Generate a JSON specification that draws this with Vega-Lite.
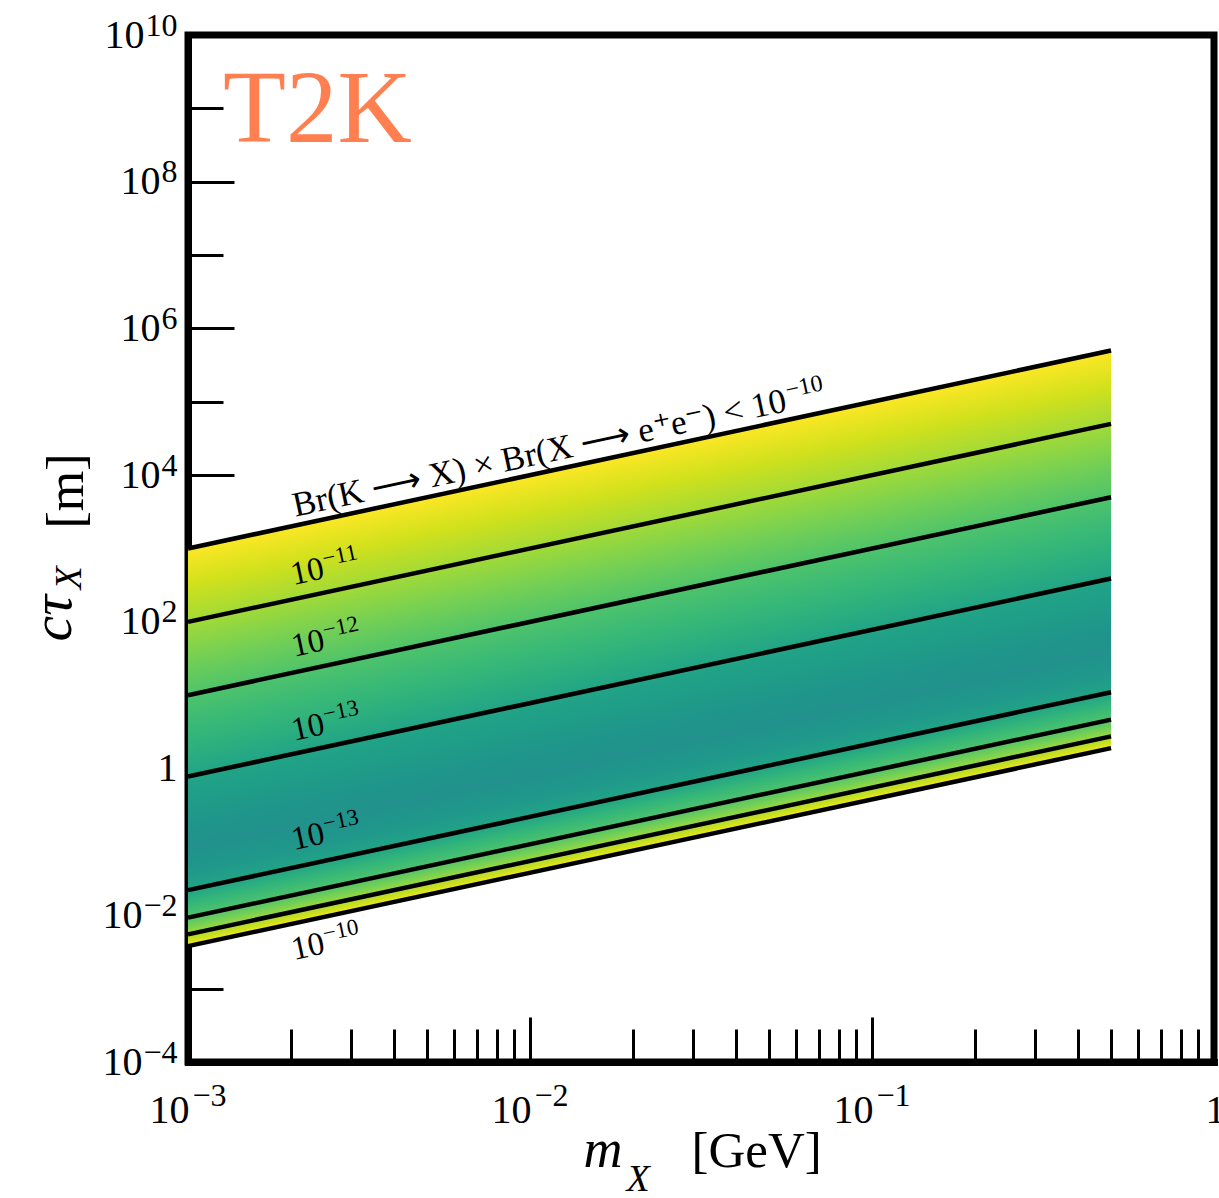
{
  "$schema": "https://vega.github.io/schema/vega-lite/v6.json",
  "width": 1026,
  "height": 1027,
  "autosize": "none",
  "padding": {"left": 188, "top": 35, "right": 5, "bottom": 136},
  "background": "white",
  "config": {
    "view": {"stroke": "black", "strokeWidth": 7},
    "font": "Liberation Serif",
    "axis": {
      "grid": false,
      "domain": false,
      "tickColor": "black",
      "tickWidth": 3,
      "labelColor": "black",
      "titleColor": "black",
      "labelFont": "Liberation Serif",
      "titleFont": "Liberation Serif",
      "titleFontWeight": "normal",
      "labelOverlap": false,
      "labelFlush": false,
      "zindex": 1
    }
  },
  "datasets": {
    "band": [
      {"m": 0.001, "hi": 1000, "lo": 0.0038},
      {"m": 0.5, "hi": 500000, "lo": 1.9}
    ],
    "contours": [
      {"id": "l1", "m": 0.001, "ct": 1000}, {"id": "l1", "m": 0.5, "ct": 500000},
      {"id": "l2", "m": 0.001, "ct": 100}, {"id": "l2", "m": 0.5, "ct": 50000},
      {"id": "l3", "m": 0.001, "ct": 10}, {"id": "l3", "m": 0.5, "ct": 5000},
      {"id": "l4", "m": 0.001, "ct": 0.78}, {"id": "l4", "m": 0.5, "ct": 390},
      {"id": "l5", "m": 0.001, "ct": 0.022}, {"id": "l5", "m": 0.5, "ct": 11},
      {"id": "l6", "m": 0.001, "ct": 0.0093}, {"id": "l6", "m": 0.5, "ct": 4.65},
      {"id": "l7", "m": 0.001, "ct": 0.0055}, {"id": "l7", "m": 0.5, "ct": 2.75},
      {"id": "l8", "m": 0.001, "ct": 0.0038}, {"id": "l8", "m": 0.5, "ct": 1.9}
    ],
    "levels": [
      {"m": 0.002032, "ct": 318, "base": "10", "exp": "−11"},
      {"m": 0.00204, "ct": 33.5, "base": "10", "exp": "−12"},
      {"m": 0.00204, "ct": 2.4, "base": "10", "exp": "−13"},
      {"m": 0.00204, "ct": 0.0776, "base": "10", "exp": "−13"},
      {"m": 0.00204, "ct": 0.002455, "base": "10", "exp": "−10"}
    ],
    "br": [
      {"m": 0.05682, "ct": 74870, "base": "Br(K ⟶ X) × Br(X ⟶ e⁺e⁻) < 10", "exp": "−10"}
    ],
    "tag": [
      {"m": 0.001266, "ct": 350000000, "label": "T2K"}
    ]
  },
  "layer": [
    {
      "data": {"name": "band"},
      "mark": {
        "type": "area",
        "strokeWidth": 0,
        "fill": {
          "gradient": "linear",
          "x1": 1, "y1": 0, "x2": 1.19984, "y2": 0.60115,
          "stops": [
            {"offset": 0, "color": "#fde725"},
            {"offset": 0.0922, "color": "#d0e11c"},
            {"offset": 0.1845, "color": "#a2da37"},
            {"offset": 0.2767, "color": "#75d054"},
            {"offset": 0.369, "color": "#4ec36b"},
            {"offset": 0.4612, "color": "#35b779"},
            {"offset": 0.5738, "color": "#21a486"},
            {"offset": 0.6457, "color": "#1f9c89"},
            {"offset": 0.7011, "color": "#20958b"},
            {"offset": 0.7564, "color": "#21928c"},
            {"offset": 0.8118, "color": "#20988b"},
            {"offset": 0.8597, "color": "#21a486"},
            {"offset": 0.8948, "color": "#35b779"},
            {"offset": 0.928, "color": "#4ec36b"},
            {"offset": 0.9501, "color": "#75d054"},
            {"offset": 0.9704, "color": "#a2da37"},
            {"offset": 0.9871, "color": "#d0e11c"},
            {"offset": 1, "color": "#fde725"}
          ]
        }
      },
      "encoding": {
        "x": {
          "field": "m", "type": "quantitative",
          "scale": {"type": "log", "domain": [0.001, 1], "nice": false},
          "axis": {
            "orient": "bottom",
            "values": [0.001, 0.01, 0.1, 1],
            "tickSize": -45,
            "labelExpr": "datum.value > 0.5 ? '1' : '10'",
            "labelFontSize": 40,
            "labelPadding": 105,
            "labelAlign": {"condition": {"test": "datum.value > 0.5", "value": "center"}, "value": "right"},
            "labelOffset": 1,
            "labelBaseline": "alphabetic",
            "title": "m",
            "titleFontSize": 54,
            "titleFontStyle": "italic",
            "titleAngle": 0,
            "titleAlign": "left",
            "titleBaseline": "alphabetic",
            "titleX": 395,
            "titleY": 104,
            "domain": true,
            "domainColor": "black",
            "domainWidth": 7,
            "domainCap": "square"
          }
        },
        "y": {
          "field": "hi", "type": "quantitative",
          "scale": {"type": "log", "domain": [0.0001, 10000000000], "nice": false},
          "axis": {
            "orient": "left",
            "values": [0.0001, 0.01, 1, 100, 10000, 1000000, 100000000, 10000000000],
            "tickSize": -46,
            "labelExpr": "datum.value > 0.5 && datum.value < 2 ? '1' : '10'",
            "labelFontSize": 40,
            "labelPadding": {
              "condition": [
                {"test": "datum.value > 0.5 && datum.value < 2", "value": 57},
                {"test": "datum.value > 1000000000", "value": 90},
                {"test": "datum.value < 0.5", "value": 92}
              ],
              "value": 74
            },
            "labelAlign": "right",
            "labelBaseline": "middle",
            "title": "cτ",
            "titleFontSize": 58,
            "titleFontStyle": "italic",
            "titleAngle": 270,
            "titleAlign": "left",
            "titleBaseline": "alphabetic",
            "titleX": -118,
            "titleY": 606,
            "domain": true,
            "domainColor": "black",
            "domainWidth": 7,
            "domainCap": "square"
          }
        },
        "y2": {"field": "lo"}
      }
    },
    {
      "data": {"name": "contours"},
      "mark": {"type": "line", "color": "black", "strokeWidth": 4.5},
      "encoding": {
        "x": {
          "field": "m", "type": "quantitative",
          "scale": {"type": "log", "domain": [0.001, 1], "nice": false},
          "axis": {
            "orient": "bottom",
            "values": [0.002, 0.003, 0.004, 0.005, 0.006, 0.007, 0.008, 0.009, 0.02, 0.03, 0.04, 0.05, 0.06, 0.07, 0.08, 0.09, 0.2, 0.3, 0.4, 0.5, 0.6, 0.7, 0.8, 0.9],
            "tickSize": -33,
            "labels": false,
            "title": "X",
            "titleFontSize": 38,
            "titleFontStyle": "italic",
            "titleAngle": 0,
            "titleAlign": "left",
            "titleBaseline": "alphabetic",
            "titleX": 438,
            "titleY": 128
          }
        },
        "y": {
          "field": "ct", "type": "quantitative",
          "scale": {"type": "log", "domain": [0.0001, 10000000000], "nice": false},
          "axis": {
            "orient": "left",
            "values": [0.001, 0.1, 10, 1000, 100000, 10000000, 1000000000],
            "tickSize": -35,
            "labels": false,
            "title": "X",
            "titleFontSize": 38,
            "titleFontStyle": "italic",
            "titleAngle": 270,
            "titleAlign": "left",
            "titleBaseline": "alphabetic",
            "titleX": -108,
            "titleY": 554
          }
        },
        "detail": {"field": "id", "type": "nominal"}
      }
    },
    {
      "data": {"name": "levels"},
      "mark": {"type": "text", "angle": -12.1, "align": "left", "baseline": "alphabetic", "fontSize": 33, "font": "Liberation Serif", "color": "black"},
      "encoding": {
        "x": {
          "field": "m", "type": "quantitative",
          "scale": {"type": "log", "domain": [0.001, 1], "nice": false},
          "axis": {
            "orient": "bottom",
            "ticks": false,
            "labels": false,
            "title": "[GeV]",
            "titleFontSize": 51,
            "titleAngle": 0,
            "titleAlign": "left",
            "titleBaseline": "alphabetic",
            "titleX": 503,
            "titleY": 104
          }
        },
        "y": {
          "field": "ct", "type": "quantitative",
          "scale": {"type": "log", "domain": [0.0001, 10000000000], "nice": false},
          "axis": {
            "orient": "left",
            "ticks": false,
            "labels": false,
            "title": "[m]",
            "titleFontSize": 52,
            "titleAngle": 270,
            "titleAlign": "left",
            "titleBaseline": "alphabetic",
            "titleX": -106,
            "titleY": 493
          }
        },
        "text": {"field": "base", "type": "nominal"}
      }
    },
    {
      "data": {"name": "levels"},
      "mark": {"type": "text", "angle": -12.1, "align": "left", "baseline": "alphabetic", "fontSize": 23, "font": "Liberation Serif", "color": "black", "dx": 34, "dy": -12},
      "encoding": {
        "x": {"field": "m", "type": "quantitative", "scale": {"type": "log", "domain": [0.001, 1], "nice": false}, "axis": null},
        "y": {"field": "ct", "type": "quantitative", "scale": {"type": "log", "domain": [0.0001, 10000000000], "nice": false}, "axis": null},
        "text": {"field": "exp", "type": "nominal"}
      }
    },
    {
      "data": {"name": "br"},
      "mark": {"type": "text", "angle": -12.1, "align": "right", "baseline": "alphabetic", "fontSize": 35, "font": "Liberation Serif", "color": "black"},
      "encoding": {
        "x": {"field": "m", "type": "quantitative", "scale": {"type": "log", "domain": [0.001, 1], "nice": false}, "axis": null},
        "y": {"field": "ct", "type": "quantitative", "scale": {"type": "log", "domain": [0.0001, 10000000000], "nice": false}, "axis": null},
        "text": {"field": "base", "type": "nominal"}
      }
    },
    {
      "data": {"name": "br"},
      "mark": {"type": "text", "angle": -12.1, "align": "left", "baseline": "alphabetic", "fontSize": 24, "font": "Liberation Serif", "color": "black", "dx": 2, "dy": -13},
      "encoding": {
        "x": {"field": "m", "type": "quantitative", "scale": {"type": "log", "domain": [0.001, 1], "nice": false}, "axis": null},
        "y": {"field": "ct", "type": "quantitative", "scale": {"type": "log", "domain": [0.0001, 10000000000], "nice": false}, "axis": null},
        "text": {"field": "exp", "type": "nominal"}
      }
    },
    {
      "data": {"name": "tag"},
      "mark": {"type": "text", "align": "left", "baseline": "alphabetic", "fontSize": 103, "font": "Liberation Serif", "color": "coral"},
      "encoding": {
        "x": {
          "field": "m", "type": "quantitative",
          "scale": {"type": "log", "domain": [0.001, 1], "nice": false},
          "axis": {
            "orient": "bottom",
            "values": [0.001, 0.01, 0.1],
            "ticks": false,
            "tickSize": 0,
            "domain": false,
            "labelExpr": "datum.value < 0.005 ? '−3' : datum.value < 0.05 ? '−2' : '−1'",
            "labelFontSize": 32,
            "labelAlign": "left",
            "labelOffset": 4,
            "labelBaseline": "alphabetic",
            "labelPadding": 43,
            "title": null
          }
        },
        "y": {
          "field": "ct", "type": "quantitative",
          "scale": {"type": "log", "domain": [0.0001, 10000000000], "nice": false},
          "axis": {
            "orient": "left",
            "values": [0.0001, 0.01, 100, 10000, 1000000, 100000000, 10000000000],
            "ticks": false,
            "tickSize": 0,
            "domain": false,
            "labelExpr": "datum.value < 0.001 ? '−4' : datum.value < 0.1 ? '−2' : datum.value < 1000 ? '2' : datum.value < 100000 ? '4' : datum.value < 10000000 ? '6' : datum.value < 1000000000 ? '8' : '10'",
            "labelFontSize": 32,
            "labelAlign": "right",
            "labelBaseline": "alphabetic",
            "labelPadding": 11,
            "title": null
          }
        },
        "text": {"field": "label", "type": "nominal"}
      }
    }
  ],
  "resolve": {"axis": {"x": "independent", "y": "independent"}}
}
